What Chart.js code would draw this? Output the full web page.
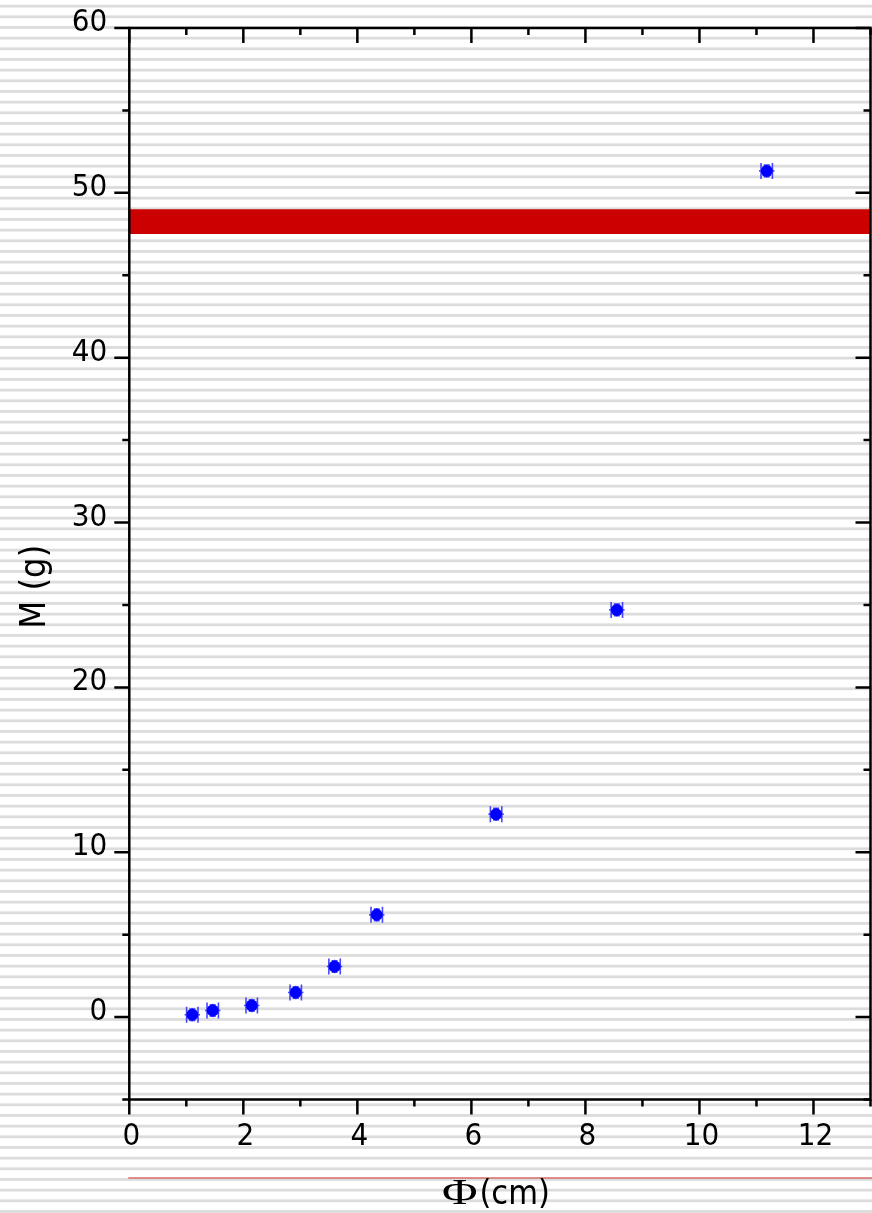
<!DOCTYPE html>
<html>
<head>
<meta charset="utf-8">
<script src="https://cdn.jsdelivr.net/npm/chart.js@4.4.1/dist/chart.umd.min.js"></script>
<style>
  html, body { margin: 0; padding: 0; background: #fff; overflow: hidden; }
  #wrap { width: 872px; height: 1213px; }
  canvas { display: block; }
</style>
</head>
<body>
<div id="wrap"><canvas id="c" width="872" height="1213"></canvas></div>
<script>
// Measured samples: diameter Φ (cm) against mass M (g)
const diameters   = [1.105, 1.463, 2.147, 2.919, 3.60, 4.34, 6.433, 8.551, 11.18];
const masses      = [0.14, 0.40, 0.70, 1.49, 3.07, 6.20, 12.31, 24.70, 51.33];
const diameterErr = [0.10, 0.10, 0.10, 0.10, 0.10, 0.10, 0.10, 0.10, 0.10];
const massErr     = [0.35, 0.35, 0.35, 0.35, 0.35, 0.35, 0.35, 0.35, 0.35];

// Reference band of mass values
const bandLow  = 47.5;
const bandHigh = 49.0;

// Axis ranges and tick values
const xRange = [0, 13];
const yRange = [-5, 60];
const xMajorTicks = [0, 2, 4, 6, 8, 10, 12];
const xMinorTicks = [1, 3, 5, 7, 9, 11, 13];
const yMajorTicks = [0, 10, 20, 30, 40, 50, 60];
const yMinorTicks = [-5, 5, 15, 25, 35, 45, 55];

const xTitleSymbol = 'Φ';
const xTitleUnit = '(cm)';
const yTitle = 'M (g)';

const SANS = "'DejaVu Sans Condensed', 'DejaVu Sans', sans-serif";
const SERIF = "'Liberation Serif', 'DejaVu Serif', serif";

// Striped page background
const stripedBackground = {
  id: 'stripedBackground',
  beforeDraw(chart) {
    const { ctx, width, height } = chart;
    ctx.save();
    ctx.fillStyle = '#ffffff';
    ctx.fillRect(0, 0, width, height);
    ctx.fillStyle = '#dcdcdc';
    const period = 32 / 3;
    for (let y = 4.7; y < height; y += period) {
      ctx.fillRect(0, y, width, 2.8);
    }
    ctx.restore();
  }
};

// Error bars in both directions with caps, drawn beneath the markers
const errorBars = {
  id: 'errorBars',
  beforeDatasetsDraw(chart) {
    const { ctx } = chart;
    const xs = chart.scales.x, ys = chart.scales.y;
    ctx.save();
    ctx.strokeStyle = 'rgba(40, 40, 255, 0.85)';
    ctx.lineWidth = 1.6;
    diameters.forEach((d, i) => {
      const cx = xs.getPixelForValue(d);
      const cy = ys.getPixelForValue(masses[i]);
      const xl = xs.getPixelForValue(d - diameterErr[i]);
      const xr = xs.getPixelForValue(d + diameterErr[i]);
      const yt = ys.getPixelForValue(masses[i] + massErr[i]);
      const yb = ys.getPixelForValue(masses[i] - massErr[i]);
      ctx.beginPath();
      ctx.moveTo(xl - 2, cy); ctx.lineTo(xr + 2, cy);
      ctx.moveTo(xl, cy - 8); ctx.lineTo(xl, cy + 8);
      ctx.moveTo(xr, cy - 8); ctx.lineTo(xr, cy + 8);
      ctx.moveTo(cx, yt - 1); ctx.lineTo(cx, yb + 1);
      ctx.moveTo(cx - 3, yt); ctx.lineTo(cx + 3, yt);
      ctx.moveTo(cx - 3, yb); ctx.lineTo(cx + 3, yb);
      ctx.stroke();
    });
    ctx.restore();
  }
};

// Box frame, tick marks, axis titles and the rule under the x labels
const frameAndTitles = {
  id: 'frameAndTitles',
  afterDraw(chart) {
    const { ctx } = chart;
    const a = chart.chartArea;
    const xs = chart.scales.x, ys = chart.scales.y;
    ctx.save();
    ctx.strokeStyle = '#000';
    ctx.lineWidth = 2.5;
    ctx.lineCap = 'butt';
    ctx.strokeRect(a.left, a.top, a.right - a.left, a.bottom - a.top);

    const major = 15, minor = 7;
    ctx.beginPath();
    const xTick = (v, len) => {
      const px = xs.getPixelForValue(v);
      ctx.moveTo(px, a.bottom); ctx.lineTo(px, a.bottom + len);
      ctx.moveTo(px, a.top); ctx.lineTo(px, a.top + len);
    };
    const yTick = (v, len) => {
      const py = ys.getPixelForValue(v);
      ctx.moveTo(a.left - len, py); ctx.lineTo(a.left, py);
      ctx.moveTo(a.right - len, py); ctx.lineTo(a.right, py);
    };
    xMajorTicks.forEach(v => xTick(v, major));
    xMinorTicks.forEach(v => xTick(v, minor));
    yMajorTicks.forEach(v => yTick(v, major));
    yMinorTicks.forEach(v => yTick(v, minor));
    ctx.stroke();

    // thin rule below the tick labels
    ctx.strokeStyle = 'rgb(214, 106, 106)';
    ctx.lineWidth = 1.6;
    ctx.beginPath();
    ctx.moveTo(a.left - 1, 1178);
    ctx.lineTo(chart.width, 1178);
    ctx.stroke();

    // y axis title
    ctx.fillStyle = '#000';
    ctx.save();
    ctx.translate(a.left - 94, (a.top + a.bottom) / 2 + 23);
    ctx.rotate(-Math.PI / 2);
    ctx.font = '36px ' + SANS;
    ctx.textAlign = 'center';
    ctx.textBaseline = 'middle';
    ctx.fillText(yTitle, 0, 0);
    ctx.restore();

    // x axis title: serif symbol followed by the unit
    const symFont = '36px ' + SERIF;
    const unitFont = '34px ' + SANS;
    const symScale = 1.35;
    ctx.font = symFont;
    const symW = ctx.measureText(xTitleSymbol).width * symScale;
    ctx.font = unitFont;
    const unitW = ctx.measureText(xTitleUnit).width;
    const gap = 2;
    const total = symW + gap + unitW;
    const cx = (a.left + a.right) / 2 - 4;
    const startX = cx - total / 2;
    const baseY = 1204;
    ctx.textAlign = 'left';
    ctx.textBaseline = 'alphabetic';
    ctx.save();
    ctx.translate(startX, baseY);
    ctx.scale(symScale, 1);
    ctx.font = symFont;
    ctx.fillText(xTitleSymbol, 0, 0);
    ctx.restore();
    ctx.font = unitFont;
    ctx.fillText(xTitleUnit, startX + symW + gap, baseY);
    ctx.restore();
  }
};

const tickFont = { family: SANS, size: 31 };

// keep the plot box fixed: no extra room reserved for overhanging labels
const noScalePadding = s => {
  s.paddingTop = 0; s.paddingBottom = 0; s.paddingLeft = 0; s.paddingRight = 0;
};

new Chart(document.getElementById('c'), {
  type: 'scatter',
  data: {
    datasets: [
      {
        type: 'line',
        data: [{ x: xRange[0], y: bandHigh }, { x: xRange[1], y: bandHigh }],
        borderWidth: 0,
        borderColor: 'rgba(0,0,0,0)',
        backgroundColor: '#cc0000',
        pointRadius: 0,
        fill: '+1'
      },
      {
        type: 'line',
        data: [{ x: xRange[0], y: bandLow }, { x: xRange[1], y: bandLow }],
        borderWidth: 0,
        borderColor: 'rgba(0,0,0,0)',
        pointRadius: 0,
        fill: false
      },
      {
        type: 'scatter',
        data: diameters.map((d, i) => ({ x: d, y: masses[i] })),
        pointRadius: 6,
        pointHoverRadius: 6,
        backgroundColor: '#0000ff',
        borderWidth: 0
      }
    ]
  },
  options: {
    responsive: false,
    animation: false,
    devicePixelRatio: 1,
    layout: { autoPadding: false, padding: { left: 0, right: 1.5, top: 28, bottom: 0 } },
    plugins: { legend: { display: false }, tooltip: { enabled: false } },
    scales: {
      x: {
        type: 'linear',
        min: xRange[0],
        max: xRange[1],
        grid: { display: false, drawTicks: false },
        border: { display: false },
        afterBuildTicks: s => { s.ticks = xMajorTicks.map(v => ({ value: v })); },
        afterFit: s => { s.height = 113.5; noScalePadding(s); },
        ticks: {
          color: '#000',
          font: tickFont,
          padding: 19,
          labelOffset: 2,
          maxRotation: 0,
          autoSkip: false,
          callback: v => String(v)
        }
      },
      y: {
        type: 'linear',
        min: yRange[0],
        max: yRange[1],
        grid: { display: false, drawTicks: false },
        border: { display: false },
        afterBuildTicks: s => { s.ticks = yMajorTicks.map(v => ({ value: v })); },
        afterFit: s => { s.width = 129.3; noScalePadding(s); },
        ticks: {
          color: '#000',
          font: tickFont,
          padding: 22,
          labelOffset: -5,
          autoSkip: false,
          callback: v => String(v)
        }
      }
    }
  },
  plugins: [stripedBackground, errorBars, frameAndTitles]
});
</script>
</body>
</html>
